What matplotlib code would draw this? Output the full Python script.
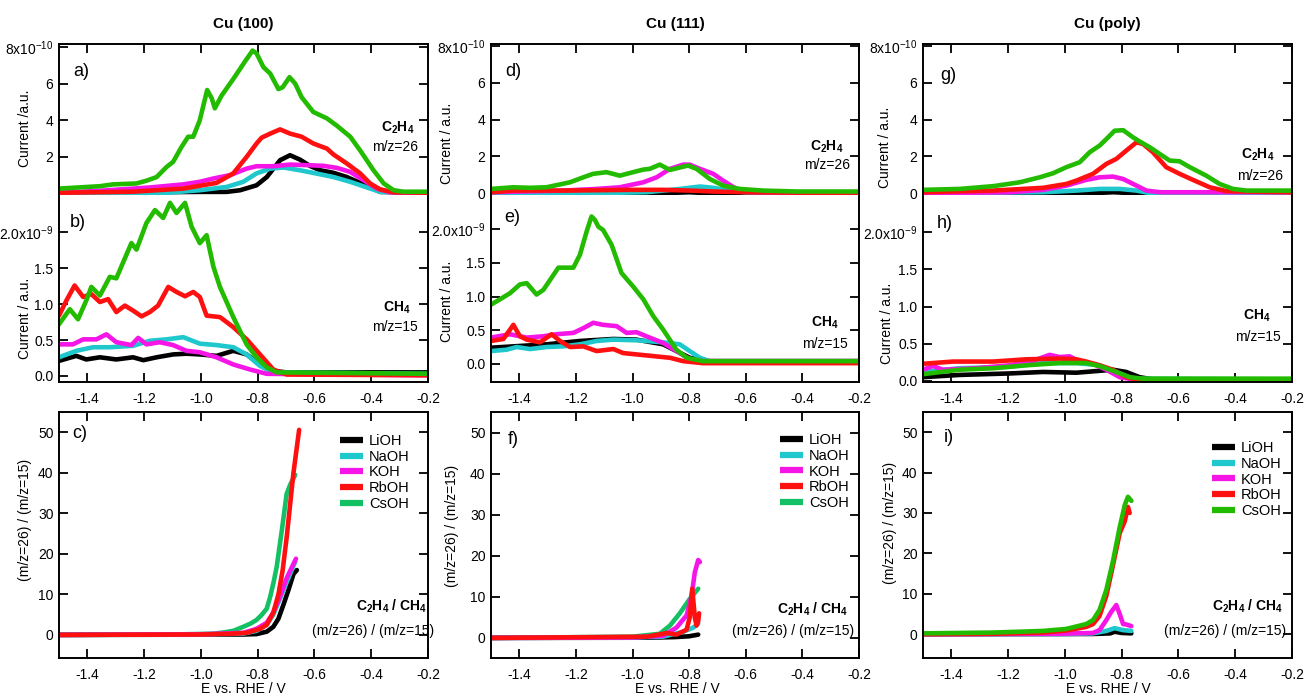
import matplotlib
matplotlib.use('Agg')
import matplotlib.pyplot as plt

plt.rcParams['font.family'] = ['Liberation Sans', 'DejaVu Sans']
plt.rcParams['axes.unicode_minus'] = False
plt.rcParams['mathtext.fontset'] = 'custom'
plt.rcParams['mathtext.rm'] = 'Liberation Sans'
plt.rcParams['mathtext.it'] = 'Liberation Sans:italic'
plt.rcParams['mathtext.bf'] = 'Liberation Sans:bold'

# ---------------- data ----------------
electrolytes = ['LiOH', 'NaOH', 'KOH', 'RbOH', 'CsOH']
titles = ['Cu (100)', 'Cu (111)', 'Cu (poly)']
x_ticks = [-1.4, -1.2, -1.0, -0.8, -0.6, -0.4, -0.2]
x_tick_labels = ['-1.4', '-1.2', '-1.0', '-0.8', '-0.6', '-0.4', '-0.2']
c2h4_ticks = [0, 2, 4, 6, 8]
c2h4_tick_labels_a = ['', '2', '4', '6', r'8x10$^{-10}$']
c2h4_tick_labels = ['0', '2', '4', '6', r'8x10$^{-10}$']
ch4_ticks = [0.0, 0.5, 1.0, 1.5, 2.0]
ch4_tick_labels = ['0.0', '0.5', '1.0', '1.5', r'2.0x10$^{-9}$']
ratio_ticks = [0, 10, 20, 30, 40, 50]
ratio_tick_labels = ['0', '10', '20', '30', '40', '50']

# Panel a: Cu(100) C2H4 (x1e-10)
a_LiOH_V = [-1.5, -1.004, -0.909, -0.862, -0.804, -0.768, -0.721, -0.686, -0.651, -0.615, -0.580, -0.533, -0.486, -0.439, -0.404, -0.368, -0.2]
a_LiOH_y = [0.04, 0.09, 0.09, 0.18, 0.45, 0.9, 1.82, 2.09, 1.85, 1.5, 1.27, 1.13, 0.9, 0.58, 0.33, 0.09, 0.04]
a_NaOH_V = [-1.5, -1.121, -1.004, -0.909, -0.851, -0.804, -0.756, -0.709, -0.651, -0.580, -0.533, -0.474, -0.415, -0.368, -0.2]
a_NaOH_y = [0.04, 0.04, 0.18, 0.36, 0.64, 1.1, 1.36, 1.42, 1.27, 1.05, 0.9, 0.64, 0.33, 0.09, 0.04]
a_KOH_V = [-1.5, -1.356, -1.180, -1.062, -1.004, -0.956, -0.898, -0.839, -0.804, -0.745, -0.686, -0.627, -0.568, -0.521, -0.474, -0.427, -0.380, -0.333, -0.2]
a_KOH_y = [0.04, 0.15, 0.33, 0.5, 0.64, 0.82, 1.0, 1.36, 1.49, 1.49, 1.58, 1.55, 1.51, 1.4, 1.18, 0.73, 0.27, 0.07, 0.04]
a_RbOH_V = [-1.5, -1.239, -1.062, -0.945, -0.886, -0.839, -0.804, -0.786, -0.756, -0.721, -0.686, -0.645, -0.604, -0.556, -0.533, -0.486, -0.439, -0.404, -0.368, -0.321, -0.2]
a_RbOH_y = [0.04, 0.1, 0.27, 0.58, 1.1, 2.0, 2.73, 3.05, 3.27, 3.5, 3.27, 3.1, 2.73, 2.45, 2.13, 1.64, 1.1, 0.55, 0.22, 0.07, 0.04]
a_CsOH_V = [-1.5, -1.356, -1.309, -1.227, -1.192, -1.156, -1.121, -1.098, -1.068, -1.045, -1.027, -1.004, -0.978, -0.962, -0.951, -0.927, -0.886, -0.845, -0.818, -0.804, -0.780, -0.756, -0.727, -0.712, -0.688, -0.668, -0.645, -0.604, -0.556, -0.521, -0.474, -0.439, -0.392, -0.356, -0.321, -0.286, -0.2]
a_CsOH_y = [0.27, 0.4, 0.5, 0.55, 0.7, 0.9, 1.45, 1.73, 2.55, 3.1, 3.1, 4.0, 5.65, 5.2, 4.65, 5.35, 6.25, 7.2, 7.8, 7.65, 6.9, 6.55, 5.7, 5.8, 6.35, 6.0, 5.25, 4.45, 4.1, 3.7, 3.1, 2.35, 1.27, 0.55, 0.18, 0.1, 0.1]

# Panel b: Cu(100) CH4 (x1e-9)
b_LiOH_V = [-1.5, -1.439, -1.404, -1.356, -1.298, -1.239, -1.203, -1.156, -1.098, -1.051, -1.004, -0.945, -0.886, -0.839, -0.792, -0.745, -0.698, -0.2]
b_LiOH_y = [0.21, 0.28, 0.23, 0.26, 0.23, 0.26, 0.22, 0.26, 0.3, 0.31, 0.3, 0.28, 0.35, 0.3, 0.16, 0.07, 0.05, 0.05]
b_NaOH_V = [-1.5, -1.439, -1.380, -1.321, -1.239, -1.180, -1.121, -1.062, -1.004, -0.945, -0.886, -0.839, -0.792, -0.745, -0.2]
b_NaOH_y = [0.26, 0.35, 0.4, 0.4, 0.42, 0.49, 0.51, 0.54, 0.45, 0.43, 0.4, 0.3, 0.14, 0.05, 0.03]
b_KOH_V = [-1.5, -1.451, -1.415, -1.368, -1.333, -1.298, -1.245, -1.221, -1.192, -1.145, -1.098, -1.051, -1.004, -0.945, -0.886, -0.827, -0.768, -0.2]
b_KOH_y = [0.44, 0.44, 0.51, 0.51, 0.58, 0.47, 0.43, 0.53, 0.44, 0.47, 0.43, 0.35, 0.33, 0.26, 0.16, 0.09, 0.03, 0.01]
b_RbOH_V = [-1.5, -1.474, -1.445, -1.415, -1.386, -1.356, -1.327, -1.298, -1.268, -1.239, -1.209, -1.180, -1.151, -1.115, -1.086, -1.056, -1.027, -1.004, -0.980, -0.933, -0.886, -0.839, -0.792, -0.745, -0.698, -0.2]
b_RbOH_y = [0.84, 1.05, 1.26, 1.1, 1.14, 1.03, 1.07, 0.89, 0.98, 0.91, 0.83, 0.89, 0.98, 1.24, 1.17, 1.11, 1.17, 1.1, 0.84, 0.82, 0.68, 0.51, 0.3, 0.09, 0.02, 0.01]
b_CsOH_V = [-1.5, -1.462, -1.433, -1.404, -1.386, -1.356, -1.321, -1.298, -1.245, -1.227, -1.192, -1.162, -1.133, -1.109, -1.086, -1.056, -1.033, -1.004, -0.980, -0.956, -0.933, -0.886, -0.839, -0.804, -0.768, -0.733, -0.2]
b_CsOH_y = [0.72, 0.93, 0.79, 1.05, 1.24, 1.12, 1.38, 1.36, 1.85, 1.76, 2.13, 2.31, 2.2, 2.41, 2.27, 2.41, 2.08, 1.85, 1.96, 1.52, 1.24, 0.82, 0.44, 0.26, 0.12, 0.05, 0.03]

# Panel c: Cu(100) ratio
c_LiOH_V = [-1.5, -1.0, -0.85, -0.804, -0.768, -0.745, -0.727, -0.709, -0.692, -0.674, -0.662]
c_LiOH_y = [0, 0.05, 0.1, 0.2, 0.8, 2.0, 4.0, 7.5, 11, 15, 16]
c_NaOH_V = [-1.5, -1.0, -0.851, -0.804, -0.768, -0.745, -0.721, -0.698, -0.674, -0.668]
c_NaOH_y = [0, 0.1, 0.3, 1.0, 2.5, 5, 9, 13, 17, 18]
c_KOH_V = [-1.5, -1.0, -0.851, -0.804, -0.768, -0.745, -0.721, -0.698, -0.674, -0.665]
c_KOH_y = [0, 0.15, 0.5, 1.5, 3, 5.5, 9.5, 14, 17.5, 18.8]
c_RbOH_V = [-1.5, -1.0, -0.9, -0.839, -0.792, -0.768, -0.745, -0.727, -0.712, -0.698, -0.686, -0.674, -0.654]
c_RbOH_y = [0, 0.1, 0.25, 0.5, 1.5, 2.5, 5.5, 10, 16, 24, 32, 40, 50.6]
c_CsOH_V = [-1.5, -1.1, -0.956, -0.92, -0.886, -0.851, -0.825, -0.804, -0.785, -0.768, -0.756, -0.744, -0.733, -0.715, -0.698, -0.686, -0.668]
c_CsOH_y = [0, 0.1, 0.3, 0.6, 1.0, 2.0, 2.8, 3.7, 5.0, 6.5, 9.4, 13, 16.8, 25.8, 34.8, 37, 39.5]

# Panel d: Cu(111) C2H4 (x1e-10)
d_LiOH_V = [-1.5, -0.892, -0.798, -0.739, -0.2]
d_LiOH_y = [0, 0, 0.05, 0, 0]
d_NaOH_V = [-1.5, -1.127, -0.951, -0.833, -0.762, -0.715, -0.656, -0.598, -0.2]
d_NaOH_y = [0, 0, 0.05, 0.23, 0.36, 0.29, 0.14, 0.04, 0]
d_KOH_V = [-1.5, -1.245, -1.127, -1.045, -0.962, -0.915, -0.868, -0.821, -0.798, -0.762, -0.715, -0.680, -0.633, -0.586, -0.2]
d_KOH_y = [0.05, 0.14, 0.23, 0.32, 0.59, 0.86, 1.32, 1.55, 1.55, 1.32, 1.05, 0.68, 0.23, 0.05, 0.0]
d_RbOH_V = [-1.5, -1.421, -1.245, -1.009, -0.892, -0.798, -0.715, -0.598, -0.2]
d_RbOH_y = [0.05, 0.14, 0.14, 0.18, 0.18, 0.14, 0.09, 0.05, 0.0]
d_CsOH_V = [-1.5, -1.421, -1.362, -1.304, -1.221, -1.174, -1.139, -1.092, -1.045, -0.998, -0.962, -0.939, -0.904, -0.868, -0.839, -0.804, -0.774, -0.727, -0.680, -0.621, -0.539, -0.421, -0.2]
d_CsOH_y = [0.23, 0.32, 0.29, 0.32, 0.59, 0.86, 1.05, 1.14, 0.95, 1.14, 1.28, 1.32, 1.55, 1.26, 1.37, 1.5, 1.32, 0.77, 0.41, 0.23, 0.14, 0.09, 0.09]

# Panel e: Cu(111) CH4 (x1e-9)
e_LiOH_V = [-1.5, -1.421, -1.304, -1.186, -1.068, -0.986, -0.892, -0.845, -0.798, -0.739, -0.2]
e_LiOH_y = [0.24, 0.26, 0.29, 0.34, 0.37, 0.36, 0.29, 0.19, 0.09, 0.04, 0.04]
e_NaOH_V = [-1.5, -1.445, -1.409, -1.362, -1.304, -1.245, -1.186, -1.127, -1.068, -0.986, -0.892, -0.833, -0.798, -0.762, -0.715, -0.2]
e_NaOH_y = [0.19, 0.21, 0.25, 0.22, 0.25, 0.26, 0.29, 0.34, 0.36, 0.35, 0.32, 0.29, 0.19, 0.09, 0.02, 0.02]
e_KOH_V = [-1.5, -1.433, -1.374, -1.315, -1.268, -1.209, -1.174, -1.139, -1.104, -1.056, -1.021, -0.986, -0.951, -0.892, -0.845, -0.798, -0.751, -0.2]
e_KOH_y = [0.39, 0.44, 0.39, 0.41, 0.44, 0.46, 0.53, 0.61, 0.58, 0.56, 0.46, 0.47, 0.41, 0.31, 0.19, 0.07, 0.04, 0.04]
e_RbOH_V = [-1.5, -1.456, -1.421, -1.398, -1.374, -1.327, -1.286, -1.256, -1.221, -1.174, -1.127, -1.068, -1.033, -0.986, -0.915, -0.868, -0.821, -0.751, -0.2]
e_RbOH_y = [0.34, 0.37, 0.58, 0.41, 0.36, 0.32, 0.44, 0.34, 0.25, 0.26, 0.19, 0.22, 0.16, 0.14, 0.11, 0.09, 0.04, 0.01, 0.01]
e_CsOH_V = [-1.5, -1.468, -1.433, -1.398, -1.374, -1.339, -1.315, -1.286, -1.262, -1.209, -1.186, -1.162, -1.145, -1.133, -1.121, -1.104, -1.074, -1.039, -0.998, -0.962, -0.927, -0.892, -0.845, -0.809, -0.751, -0.2]
e_CsOH_y = [0.88, 0.96, 1.05, 1.18, 1.2, 1.03, 1.1, 1.28, 1.43, 1.43, 1.62, 1.97, 2.19, 2.14, 2.04, 1.99, 1.77, 1.35, 1.15, 0.96, 0.71, 0.51, 0.21, 0.09, 0.04, 0.04]

# Panel f: Cu(111) ratio
f_LiOH_V = [-1.5, -0.95, -0.85, -0.80, -0.768]
f_LiOH_y = [0, 0.05, 0.2, 0.4, 0.8]
f_NaOH_V = [-1.5, -1.0, -0.892, -0.821, -0.786, -0.768]
f_NaOH_y = [0, 0.1, 0.3, 1.5, 2.5, 3.5]
f_KOH_V = [-1.5, -1.0, -0.892, -0.845, -0.809, -0.792, -0.780, -0.768, -0.762]
f_KOH_y = [0, 0.1, 0.5, 2.5, 5.5, 10, 16, 19, 18.5]
f_RbOH_V = [-1.5, -0.95, -0.892, -0.88, -0.845, -0.809, -0.798, -0.789, -0.780, -0.774, -0.768, -0.765]
f_RbOH_y = [0, 0.3, 1.0, 1.2, 0.8, 2, 5, 12, 5, 3, 4, 6]
f_CsOH_V = [-1.5, -1.0, -0.904, -0.868, -0.833, -0.798, -0.774, -0.768]
f_CsOH_y = [0, 0.3, 1.0, 3.0, 6.0, 9.5, 11.5, 12]

# Panel g: Cu(poly) C2H4 (x1e-10)
g_LiOH_V = [-1.5, -0.9, -0.83, -0.76, -0.2]
g_LiOH_y = [0, 0, 0.05, 0, 0]
g_NaOH_V = [-1.5, -1.077, -0.960, -0.878, -0.807, -0.748, -0.701, -0.2]
g_NaOH_y = [0, 0.05, 0.14, 0.23, 0.23, 0.14, 0, 0]
g_KOH_V = [-1.5, -1.195, -1.077, -0.995, -0.925, -0.878, -0.831, -0.795, -0.748, -0.713, -0.666, -0.2]
g_KOH_y = [0, 0.05, 0.18, 0.41, 0.72, 0.86, 0.9, 0.77, 0.41, 0.14, 0.05, 0.05]
g_RbOH_V = [-1.5, -1.253, -1.077, -0.995, -0.960, -0.901, -0.854, -0.819, -0.784, -0.748, -0.725, -0.690, -0.643, -0.596, -0.549, -0.490, -0.431, -0.2]
g_RbOH_y = [0.05, 0.14, 0.29, 0.5, 0.68, 1.05, 1.59, 1.86, 2.31, 2.76, 2.67, 2.22, 1.41, 1.05, 0.72, 0.32, 0.11, 0.05]
g_CsOH_V = [-1.5, -1.371, -1.253, -1.159, -1.089, -1.042, -0.995, -0.948, -0.913, -0.878, -0.848, -0.825, -0.795, -0.760, -0.737, -0.701, -0.666, -0.631, -0.596, -0.560, -0.502, -0.455, -0.408, -0.361, -0.2]
g_CsOH_y = [0.18, 0.23, 0.38, 0.59, 0.86, 1.08, 1.41, 1.68, 2.22, 2.58, 3.03, 3.39, 3.42, 3.03, 2.81, 2.49, 2.13, 1.77, 1.73, 1.41, 0.95, 0.5, 0.23, 0.14, 0.14]

# Panel h: Cu(poly) CH4 (x1e-9)
h_LiOH_V = [-1.5, -1.371, -1.195, -1.077, -0.960, -0.831, -0.784, -0.737, -0.690, -0.2]
h_LiOH_y = [0.05, 0.08, 0.1, 0.12, 0.11, 0.15, 0.12, 0.05, 0.02, 0.02]
h_NaOH_V = [-1.5, -1.371, -1.195, -1.077, -0.960, -0.878, -0.807, -0.760, -0.2]
h_NaOH_y = [0.12, 0.17, 0.19, 0.24, 0.24, 0.21, 0.1, 0.03, 0.02]
h_KOH_V = [-1.5, -1.465, -1.430, -1.312, -1.195, -1.112, -1.054, -1.018, -0.983, -0.948, -0.901, -0.854, -0.807, -0.760, -0.2]
h_KOH_y = [0.15, 0.2, 0.15, 0.17, 0.21, 0.27, 0.35, 0.32, 0.33, 0.26, 0.23, 0.15, 0.05, 0.02, 0.02]
h_RbOH_V = [-1.5, -1.394, -1.253, -1.136, -1.018, -0.960, -0.925, -0.878, -0.831, -0.784, -0.748, -0.2]
h_RbOH_y = [0.23, 0.26, 0.26, 0.29, 0.3, 0.29, 0.26, 0.21, 0.15, 0.05, 0.02, 0.02]
h_CsOH_V = [-1.5, -1.371, -1.253, -1.136, -1.018, -0.925, -0.878, -0.819, -0.772, -0.725, -0.2]
h_CsOH_y = [0.09, 0.15, 0.17, 0.21, 0.24, 0.24, 0.2, 0.12, 0.05, 0.03, 0.03]

# Panel i: Cu(poly) ratio
i_LiOH_V = [-1.5, -0.9, -0.84, -0.825, -0.80, -0.766]
i_LiOH_y = [0, 0.05, 0.2, 0.6, 0.3, 0.2]
i_NaOH_V = [-1.5, -1.0, -0.901, -0.854, -0.825, -0.795, -0.766]
i_NaOH_y = [0, 0.05, 0.2, 0.8, 1.5, 1.0, 0.8]
i_KOH_V = [-1.5, -1.018, -0.901, -0.878, -0.854, -0.837, -0.819, -0.807, -0.795, -0.784, -0.766]
i_KOH_y = [0, 0.1, 0.3, 1.0, 3.5, 5.5, 7.2, 5, 2.5, 2.4, 2.0]
i_RbOH_V = [-1.5, -1.253, -1.077, -0.995, -0.925, -0.901, -0.878, -0.854, -0.831, -0.807, -0.789, -0.778, -0.772]
i_RbOH_y = [0, 0.1, 0.4, 0.9, 1.8, 2.5, 4.5, 9.5, 17, 25, 28, 31.5, 30]
i_CsOH_V = [-1.5, -1.253, -1.077, -0.995, -0.925, -0.901, -0.878, -0.854, -0.831, -0.807, -0.789, -0.778, -0.766]
i_CsOH_y = [0.2, 0.4, 0.8, 1.3, 2.5, 3.5, 6, 11, 18, 26.5, 32, 34, 33]

# ---------------- styling ----------------
W, H = 1304, 695
fig = plt.figure(figsize=(W / 100, H / 100), dpi=100)

colors = {'LiOH': '#000000', 'NaOH': '#1EC8CC', 'KOH': '#F515E6',
          'RbOH': '#FF1010', 'CsOH': '#22BB00'}
emerald = '#14C064'
LW = 3.3


def rect(l, t, r, b):
    return [l / W, 1 - b / H, (r - l) / W, (b - t) / H]


def ftext(x, y, s, **kw):
    fig.text(x / W, 1 - y / H, s, **kw)


cols = [(59, 428), (491, 859), (923, 1292)]
row_top = (44, 195)
row_mid = (195, 382)
row_bot = (412, 658)

d = globals()


def series(p, name):
    return d[f'{p}_{name}_V'], d[f'{p}_{name}_y']


def style(ax, top=True, bottom=True):
    for s in ax.spines.values():
        s.set_linewidth(1.4)
    ax.tick_params(direction='in', length=6.5, width=1.3, labelsize=10,
                   left=True, right=True, top=top, bottom=bottom, pad=4)
    ax.tick_params(axis='x', pad=7)
    ax.set_xlim(-1.5, -0.2)
    ax.set_xticks(x_ticks)


panel_letters = [('a', 'b', 'c'), ('d', 'e', 'f'), ('g', 'h', 'i')]
top_ylims = [(-0.08, 8.16), (-0.1, 8.1), (-0.1, 8.1)]
mid_ylims = [(-0.084, 2.52), (-0.27, 2.51), (-0.015, 2.5)]
bot_ylims = [(-5.7, 55), (-4.9, 55.1), (-5.9, 55)]

for ci, (l, r) in enumerate(cols):
    pt, pm, pb = panel_letters[ci]
    # top (C2H4)
    ax1 = fig.add_axes(rect(l, row_top[0], r, row_top[1]))
    for n in electrolytes:
        V, y = series(pt, n)
        ax1.plot(V, y, color=colors[n], lw=LW, solid_capstyle='round', solid_joinstyle='round')
    style(ax1, top=True, bottom=False)
    ax1.spines['bottom'].set_visible(False)
    ax1.set_ylim(*top_ylims[ci])
    if ci == 0:
        ax1.set_yticks(c2h4_ticks[1:])
        ax1.set_yticklabels(c2h4_tick_labels_a[1:])
    else:
        ax1.set_yticks(c2h4_ticks)
        ax1.set_yticklabels(c2h4_tick_labels)
    ax1.set_xticklabels([])

    # middle (CH4)
    ax2 = fig.add_axes(rect(l, row_mid[0], r, row_mid[1]))
    for n in electrolytes:
        V, y = series(pm, n)
        ax2.plot(V, y, color=colors[n], lw=LW, solid_capstyle='round', solid_joinstyle='round')
    style(ax2, top=False, bottom=True)
    ax2.spines['top'].set_visible(False)
    ax2.set_ylim(*mid_ylims[ci])
    ax2.set_yticks(ch4_ticks)
    ax2.set_yticklabels(ch4_tick_labels)
    ax2.set_xticklabels(x_tick_labels)

    # bottom (ratio)
    ax3 = fig.add_axes(rect(l, row_bot[0], r, row_bot[1]))
    order = ['LiOH', 'NaOH', 'KOH', 'RbOH', 'CsOH'] if ci == 2 else ['CsOH', 'LiOH', 'NaOH', 'KOH', 'RbOH']
    handles = {}
    for n in order:
        V, y = series(pb, n)
        col = colors[n]
        if n == 'CsOH' and ci < 2:
            col = emerald
        handles[n], = ax3.plot(V, y, color=col, lw=LW, solid_capstyle='round',
                               solid_joinstyle='round', label=n)
    style(ax3, top=True, bottom=True)
    ax3.set_ylim(*bot_ylims[ci])
    ax3.set_yticks(ratio_ticks)
    ax3.set_yticklabels(ratio_tick_labels)
    ax3.set_xticklabels(x_tick_labels)
    leg_pos = [(340, 434), (780, 433), (1212, 441)][ci]
    leg = ax3.legend([handles[n] for n in electrolytes], electrolytes,
                     loc='upper left', bbox_to_anchor=(leg_pos[0] / W, 1 - leg_pos[1] / H),
                     bbox_transform=fig.transFigure, frameon=False, fontsize=10.5,
                     handlelength=1.6, handletextpad=0.4, labelspacing=0.12,
                     borderpad=0, borderaxespad=0)
    for lh in leg.get_lines():
        lh.set_linewidth(4.5)
        lh.set_solid_capstyle('butt')

# titles
for (l, r), t in zip(cols, titles):
    ftext((l + r) / 2, 24, t, ha='center', va='center', fontsize=11, fontweight='bold')

# y labels
ylabels = [
    (25, 128, 'Current /a.u.'), (25, 318, 'Current / a.u.'), (25, 520, '(m/z=26) / (m/z=15)'),
    (447, 143, 'Current / a.u.'), (447, 301, 'Current / a.u.'), (452, 526, '(m/z=26) / (m/z=15)'),
    (885, 147, 'Current / a.u.'), (887, 323, 'Current / a.u.'), (890, 523, '(m/z=26) / (m/z=15)'),
]
for x, y, s in ylabels:
    ftext(x, y, s, rotation=90, ha='center', va='center', fontsize=10)

# x labels
for x in [243, 677, 1108]:
    ftext(x, 689, 'E vs. RHE / V', ha='center', va='center', fontsize=10)

# panel letters
letters = [(81, 72, 'a)'), (78, 222, 'b)'), (80, 433, 'c)'),
           (513, 72, 'd)'), (512, 218, 'e)'), (513, 440, 'f)'),
           (948, 75, 'g)'), (945, 223, 'h)'), (949, 437, 'i)')]
for x, y, s in letters:
    ftext(x, y, s, ha='center', va='center', fontsize=13)

c2h4 = r'C$_\mathbf{2}$H$_\mathbf{4}$'
ch4 = r'CH$_\mathbf{4}$'
ratio = r'C$_\mathbf{2}$H$_\mathbf{4}$ / CH$_\mathbf{4}$'
annots = [
    (398, 128, c2h4, True), (395, 147, 'm/z=26', False),
    (397, 308, ch4, True), (395, 327, 'm/z=15', False),
    (392, 606, ratio, True), (373, 631, '(m/z=26) / (m/z=15)', False),
    (827, 147, c2h4, True), (827, 165, 'm/z=26', False),
    (825, 323, ch4, True), (825, 344, 'm/z=15', False),
    (813, 609, ratio, True), (793, 631, '(m/z=26) / (m/z=15)', False),
    (1258, 155, c2h4, True), (1260, 176, 'm/z=26', False),
    (1257, 316, ch4, True), (1258, 337, 'm/z=15', False),
    (1248, 606, ratio, True), (1225, 631, '(m/z=26) / (m/z=15)', False),
]
for x, y, s, b in annots:
    ftext(x, y, s, ha='center', va='center', fontsize=10,
          fontweight='bold' if b else 'normal')

fig.savefig('out.png', dpi=100)
